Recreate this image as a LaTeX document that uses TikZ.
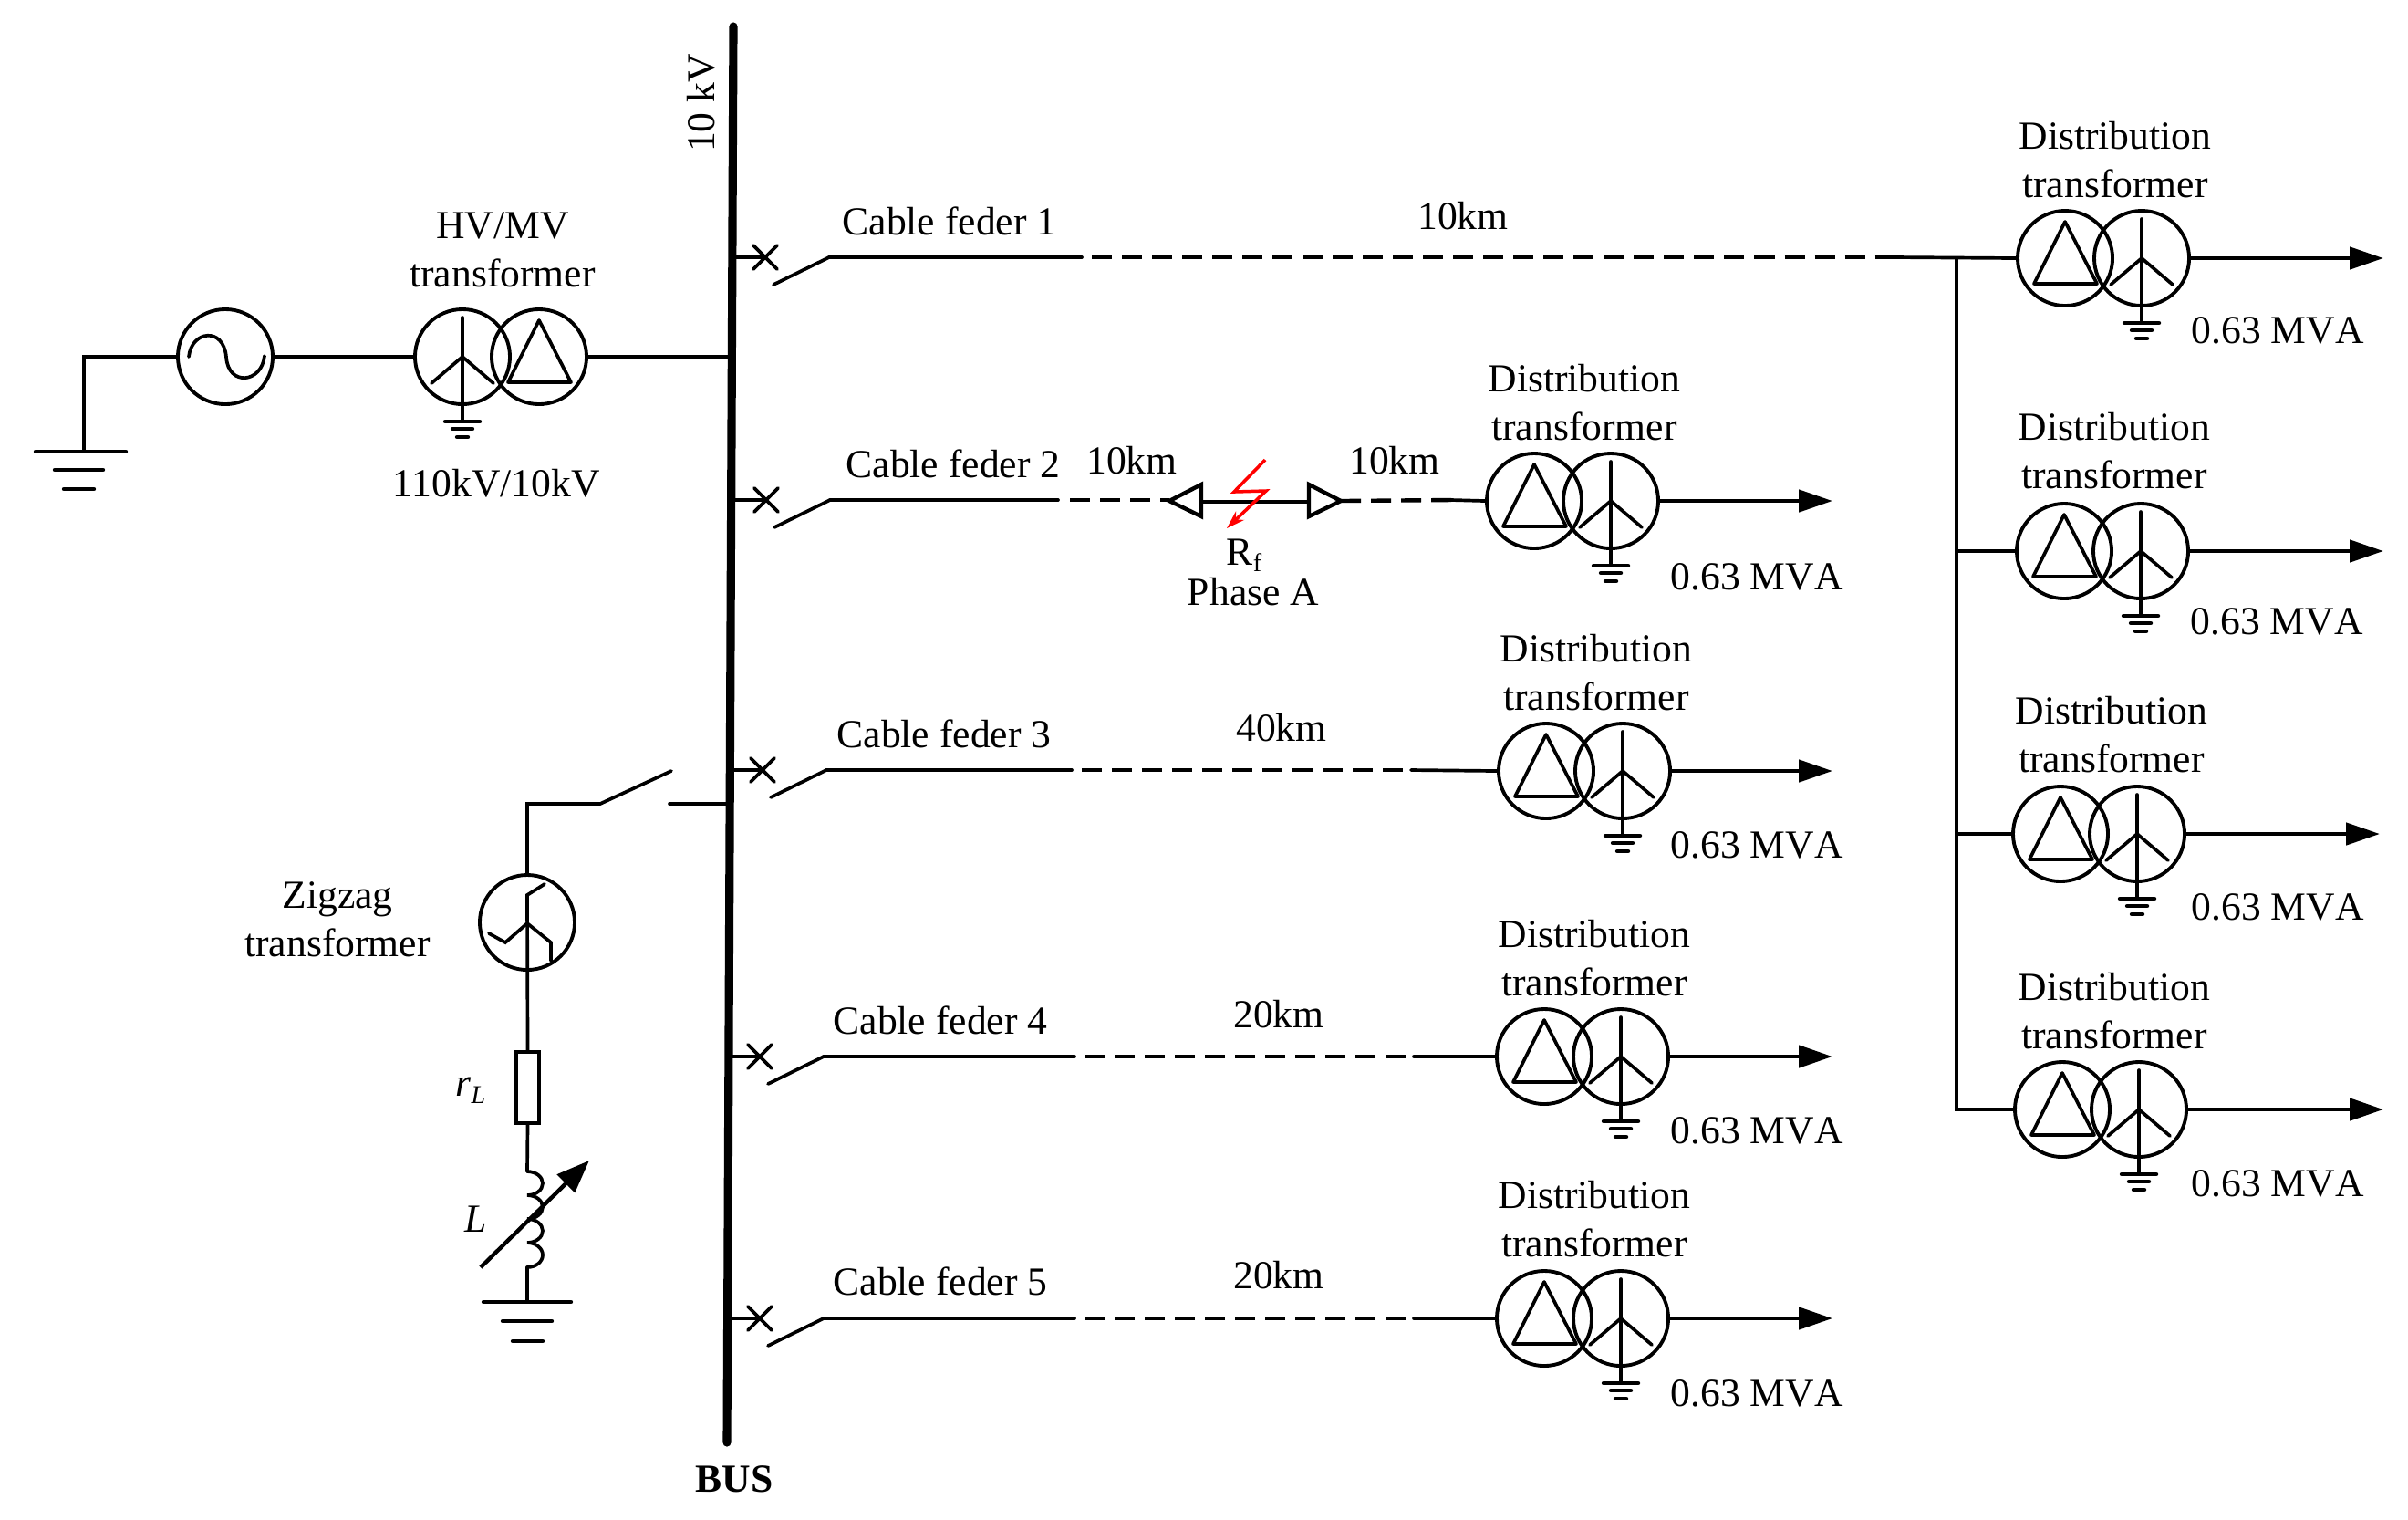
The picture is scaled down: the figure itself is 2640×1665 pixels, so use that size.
\documentclass[tikz,border=0pt]{standalone}
\usepackage{fontspec}
\setmainfont[Kerning=Off]{Liberation Serif}
\usetikzlibrary{arrows.meta}
\tikzset{
  wire/.style={line width=1.05pt,line cap=round,line join=miter},
  thick wire/.style={line width=1.25pt,line cap=round},
  dashwire/.style={line width=1.25pt,dash pattern=on 6.26pt off 3.13pt},
  coil/.style={circle,draw,line width=1.1pt,minimum size=1.04cm,inner sep=0pt},
  lab/.style={font=\fontsize{12.4}{15.2}\selectfont,inner sep=0pt,align=center,text=black,xshift=0.06cm},
  load/.style={line width=1.35pt,-{Triangle[length=.37cm,width=.24cm]}},
  bus/.style={line width=2.6pt,line cap=round},
}
% delta winding
\newcommand{\deltawdg}[3]{%
  \begin{scope}[shift={(#2,#3)}]
    \node[coil] (#1) at (0,0) {};
    \draw[wire,line join=round] (0,-40) -- (35,28) -- (-34,28) -- cycle;
  \end{scope}}
% grounded wye winding
\newcommand{\wyewdg}[3]{%
  \begin{scope}[shift={(#2,#3)}]
    \node[coil] (#1) at (0,0) {};
    \coordinate (#1t) at (0,-43);
    \coordinate (#1g) at (0,71);
    \coordinate (#1c) at (0,0);
    \coordinate (#1l) at (-34,29);
    \coordinate (#1r) at (34,29);
    \draw[wire] (#1t) -- (#1g);
    \draw[wire] (#1l) -- (#1c) -- (#1r);
    \draw[thick wire] (-19,71) -- (19,71);
    \draw[thick wire] (-11,79) -- (11,79);
    \draw[thick wire] (-6,88) -- (6,88);
  \end{scope}}
% distribution transformer with load arrow
\newcommand{\distx}[4]{%
  \deltawdg{#1d}{#2}{#3}
  \pgfmathsetmacro{\wx}{#2+84}
  \wyewdg{#1y}{\wx}{#3}
  \coordinate (#1tip) at (#4,#3);
  \draw[load] (#1y.east) -- (#1tip);}
% breaker with cross and blade
\newcommand{\breaker}[3]{%
  \coordinate (#1b) at (801,#3);
  \coordinate (#1x) at (#2,#3);
  \draw[wire] (#1b) -- (#1x);
  \begin{scope}[shift={(#2,#3)}]
    \draw[wire] (-13,-13) -- (13,13);
    \draw[wire] (-13,13) -- (13,-13);
    \draw[wire] (9,30) -- (70,0);
    \coordinate (#1s) at (70,0);
  \end{scope}}
\begin{document}
\begin{tikzpicture}[x=0.01cm,y=-0.01cm]
\useasboundingbox (0,0) rectangle (2640,1665);
% bus
\coordinate (bust) at (804,29);
\coordinate (busb) at (797,1581);
\draw[bus] (bust) -- (busb);
\node[lab,rotate=90] (kv) at (763,113) {10 kV};
\node[lab,font=\fontsize{12.4}{15}\selectfont\bfseries] (busl) at (799,1621) {BUS};
% source side
\coordinate (g0) at (92,495);
\coordinate (g1) at (92,391);
\node[coil] (src) at (247,391) {};
\draw[wire] (g0) -- (g1) -- (src.west);
\draw[thick wire] (39,495) -- (138,495);
\draw[thick wire] (60,515) -- (113,515);
\draw[thick wire] (70,536) -- (103,536);
\draw[wire] (207,391) .. controls (210,362) and (245,358) .. (248,391) .. controls (250,424) and (287,420) .. (290,390);
\wyewdg{hy}{507}{391}
\deltawdg{hd}{591}{391}
\coordinate (hb) at (801,391);
\draw[wire] (src.east) -- (hy.west);
\draw[wire] (hd.east) -- (hb);
\node[lab] (hvl) at (545,274) {HV/MV\\transformer};
\node[lab] (hvr) at (538,530) {110kV/10kV};
% feeder 1
\breaker{fa}{839}{282}
\coordinate (fa1) at (1186,282);
\coordinate (fa1d) at (1197,282);
\coordinate (fa2) at (2077,282);
\distx{ra}{2264}{283}{2613}
\coordinate (tapa) at (2145,283);
\draw[wire] (fas) -- (fa1);
\draw[dashwire] (fa1d) -- (fa2);
\draw[wire] (fa2) -- (rad.west);
\node[lab] at (1035,242) {Cable feder 1};
\node[lab] at (1598,237) {10km};
\node[lab] at (2313,175) {Distribution\\transformer};
\node[lab] at (2491,362) {0.63 MVA};
% right column
\distx{rb}{2263}{604}{2613}
\distx{rc}{2259}{914}{2609}
\distx{rd}{2261}{1216}{2613}
\coordinate (tapb) at (2145,604);
\coordinate (tapc) at (2145,914);
\coordinate (tapd) at (2145,1216);
\draw[wire] (tapa) -- (tapd) -- (rdd.west);
\draw[wire] (tapb) -- (rbd.west);
\draw[wire] (tapc) -- (rcd.west);
\node[lab] at (2312,494) {Distribution\\transformer};
\node[lab] at (2490,681) {0.63 MVA};
\node[lab] at (2309,805) {Distribution\\transformer};
\node[lab] at (2491,994) {0.63 MVA};
\node[lab] at (2312,1108) {Distribution\\transformer};
\node[lab] at (2491,1297) {0.63 MVA};
% feeder 2
\breaker{fb}{840}{548}
\coordinate (fb1) at (1160,548);
\coordinate (fb1d) at (1173,548);
\coordinate (fbl) at (1282,548);
\coordinate (fbr) at (1470,549);
\coordinate (fb2) at (1591,548);
\distx{mb}{1682}{549}{2009}
\draw[wire] (fbs) -- (fb1);
\draw[dashwire] (fb1d) -- (fbl);
\draw[wire] (1317,550) -- (1435,550);
\draw[thick wire,line join=miter] (1282,549) -- (1317,531) -- (1317,566) -- cycle;
\draw[thick wire,line join=miter] (1470,549) -- (1435,531) -- (1435,566) -- cycle;
\draw[dashwire] (fbr) -- (fb2);
\draw[wire] (fb2) -- (mbd.west);
\draw[red,line width=1pt,-{Stealth[length=.2cm,width=.13cm]}] (1387,504) -- (1353,539) -- (1388,538) -- (1345,579);
\node[lab] at (1039,508) {Cable feder 2};
\node[lab] at (1235,505) {10km};
\node[lab] at (1523,505) {10km};
\node[lab] at (1358,609) {R\raisebox{-.35ex}{\fontsize{8}{8}\selectfont f}};
\node[lab] at (1368,649) {Phase A};
\node[lab] at (1731,441) {Distribution\\transformer};
\node[lab] at (1920,632) {0.63 MVA};
% feeder 3
\breaker{fc}{836}{844}
\coordinate (fc1) at (1175,844);
\coordinate (fc1d) at (1186,844);
\coordinate (fc2) at (1547,844);
\distx{mc}{1695}{845}{2009}
\draw[wire] (fcs) -- (fc1);
\draw[dashwire] (fc1d) -- (fc2);
\draw[wire] (fc2) -- (mcd.west);
\node[lab] at (1029,804) {Cable feder 3};
\node[lab] at (1399,798) {40km};
\node[lab] at (1744,737) {Distribution\\transformer};
\node[lab] at (1920,926) {0.63 MVA};
% feeder 4
\breaker{fd}{833}{1158}
\coordinate (fd1) at (1178,1158);
\coordinate (fd1d) at (1189,1158);
\coordinate (fd2) at (1550,1158);
\distx{md}{1693}{1158}{2009}
\draw[wire] (fds) -- (fd1);
\draw[dashwire] (fd1d) -- (fd2);
\draw[wire] (fd2) -- (mdd.west);
\node[lab] at (1025,1118) {Cable feder 4};
\node[lab] at (1396,1112) {20km};
\node[lab] at (1742,1050) {Distribution\\transformer};
\node[lab] at (1920,1239) {0.63 MVA};
% feeder 5
\breaker{fe}{833}{1445}
\coordinate (fe1) at (1178,1445);
\coordinate (fe1d) at (1189,1445);
\coordinate (fe2) at (1550,1445);
\distx{me}{1693}{1445}{2009}
\draw[wire] (fes) -- (fe1);
\draw[dashwire] (fe1d) -- (fe2);
\draw[wire] (fe2) -- (med.west);
\node[lab] at (1025,1404) {Cable feder 5};
\node[lab] at (1396,1398) {20km};
\node[lab] at (1742,1336) {Distribution\\transformer};
\node[lab] at (1920,1527) {0.63 MVA};
% zigzag branch
\coordinate (zb) at (801,881);
\coordinate (zo) at (734,881);
\coordinate (zs) at (658,881);
\coordinate (zk) at (578,881);
\coordinate (zbl) at (736,845);
\node[coil] (zz) at (578,1011) {};
\node[draw,line width=1.1pt,minimum width=.25cm,minimum height=.78cm,inner sep=0pt] (rl) at (578.5,1192) {};
\coordinate (lt) at (578,1284);
\coordinate (lb) at (578,1389);
\coordinate (gz) at (578,1427);
\draw[wire] (zb) -- (zo);
\draw[wire] (zz.north) -- (zk) -- (zs) -- (zbl);
\draw[wire] (597,969) -- (578,981) -- (rl.north);
\draw[wire] (536,1023) -- (554,1033) -- (578,1012) -- (604,1033) -- (604,1053);
\draw[wire] (rl.south) -- (lt);
\draw[wire] (lt) arc[start angle=-90,end angle=90,x radius=17,y radius=13] arc[start angle=-90,end angle=90,x radius=17,y radius=13] arc[start angle=-90,end angle=90,x radius=17,y radius=13] arc[start angle=-90,end angle=90,x radius=17,y radius=13.5];
\draw[wire] (lb) -- (gz);
\draw[line width=1.25pt,-{Triangle[length=.36cm,width=.27cm]}] (527,1389) -- (646,1272);
\draw[thick wire] (530,1427) -- (626,1427);
\draw[thick wire] (551,1448) -- (605,1448);
\draw[thick wire] (562,1470) -- (595,1470);
\node[lab] at (364,1008) {Zigzag\\transformer};
\node[lab] at (510,1195) {\textit{r}\raisebox{-.4ex}{\fontsize{8}{8}\selectfont\textit{L}}};
\node[lab] at (516,1336) {\textit{L}};
\end{tikzpicture}
\end{document}
